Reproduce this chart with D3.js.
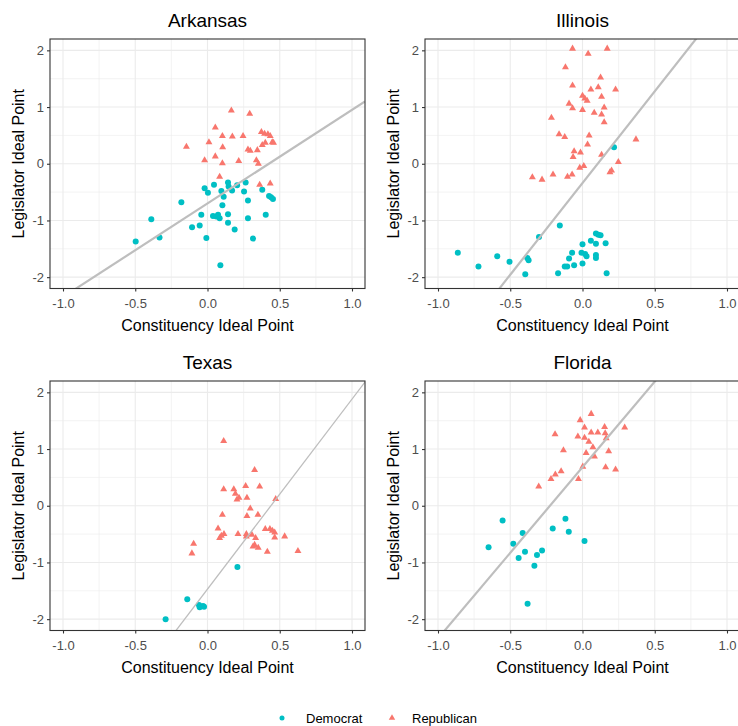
<!DOCTYPE html>
<html>
<head>
<meta charset="utf-8">
<script src="https://cdn.jsdelivr.net/npm/d3@7"></script>
<style>
  body { margin: 0; background: #fff; }
  svg { font-family: "Liberation Sans", Arial, sans-serif; }
</style>
</head>
<body>
<div id="chart"></div>
<script>
const width = 738, height = 726;

// ---- data ----
const states = ["Arkansas", "Illinois", "Texas", "Florida"];
const parties = ["Democrat", "Republican"];
const xTicks = [-1.0, -0.5, 0.0, 0.5, 1.0];
const yTicks = [-2, -1, 0, 1, 2];

// fitted line for each state: legislator = intercept + slope * constituency
const fitIntercept = [-0.70, -0.34, -1.47, 0.68];
const fitSlope = [1.65, 3.235, 3.35, 3.02];

const arkansasDem = [
	[-0.497, -1.37], [-0.389, -0.98], [-0.332, -1.30], [-0.181, -0.68], [-0.107, -1.12],
	[-0.054, -1.09], [-0.043, -0.90], [-0.020, -0.43], [0.003, -0.51], [-0.008, -1.31],
	[0.045, -0.37], [0.096, -0.48], [0.038, -0.92], [0.061, -0.93], [0.073, -0.90],
	[0.084, -0.96], [0.103, -0.73], [0.112, -0.58], [0.089, -1.79], [0.142, -0.33],
	[0.146, -0.40], [0.142, -0.89], [0.142, -1.04], [0.188, -1.16], [0.170, -0.47],
	[0.264, -0.33], [0.253, -0.49], [0.280, -0.65], [0.280, -0.96], [0.315, -1.32],
	[0.379, -0.46], [0.403, -0.90], [0.426, -0.57], [0.440, -0.59], [0.453, -0.62],
	[0.205, -0.38]
];
const arkansasRep = [
	[0.165, 0.94], [0.292, 0.88], [0.054, 0.64], [0.010, 0.38], [-0.146, 0.30],
	[0.103, 0.49], [0.172, 0.48], [0.246, 0.49], [0.105, 0.29], [0.054, 0.13],
	[-0.020, 0.06], [0.103, 0.01], [0.084, -0.23], [0.216, 0.05], [0.280, 0.25],
	[0.296, 0.23], [0.345, 0.24], [0.379, 0.33], [0.400, 0.37], [0.373, 0.56],
	[0.395, 0.53], [0.418, 0.52], [0.434, 0.49], [0.448, 0.38], [0.457, 0.37],
	[0.338, 0.06], [0.352, 0.00], [0.361, -0.37], [0.434, -0.35]
];
const illinoisDem = [
	[-0.863, -1.57], [-0.720, -1.81], [-0.590, -1.63], [-0.505, -1.73], [-0.382, -1.66],
	[-0.373, -1.70], [-0.396, -1.95], [-0.301, -1.29], [-0.157, -1.09], [-0.169, -1.93],
	[0.218, 0.29], [-0.123, -1.81], [-0.106, -1.81], [-0.072, -1.57], [-0.093, -1.67],
	[-0.058, -1.79], [0.000, -1.42], [0.000, -1.76], [-0.007, -1.57], [0.028, -1.63],
	[0.058, -1.36], [0.093, -1.23], [0.125, -1.26], [0.093, -1.41], [0.160, -1.40],
	[0.093, -1.61], [0.093, -1.66], [0.167, -1.93], [0.018, -1.59], [0.110, -1.25]
];
const illinoisRep = [
	[-0.069, 2.03], [0.171, 2.03], [0.039, 1.94], [-0.118, 1.70], [0.125, 1.52],
	[-0.069, 1.38], [0.109, 1.35], [0.229, 1.31], [0.058, 1.31], [0.000, 1.20],
	[0.016, 1.15], [0.132, 1.18], [0.032, 1.11], [-0.093, 1.06], [-0.069, 0.98],
	[0.150, 0.99], [0.000, 0.95], [0.081, 0.90], [0.132, 0.87], [0.150, 0.73],
	[-0.215, 0.81], [-0.162, 0.52], [-0.123, 0.47], [0.046, 0.50], [0.035, 0.34],
	[-0.058, 0.22], [-0.014, 0.20], [-0.065, 0.12], [0.132, 0.16], [0.370, 0.43],
	[-0.019, -0.07], [0.009, -0.04], [0.248, 0.03], [0.190, -0.15], [0.201, -0.12],
	[-0.347, -0.24], [-0.280, -0.28], [-0.204, -0.19], [-0.104, -0.23], [-0.072, -0.19]
];
const texasDem = [
	[0.207, -1.08], [-0.140, -1.65], [-0.059, -1.75], [-0.054, -1.79], [-0.031, -1.77],
	[-0.290, -2.00], [-0.024, -1.78]
];
const texasRep = [
	[0.112, 1.14], [0.326, 0.63], [0.264, 0.35], [0.361, 0.34], [0.112, 0.29],
	[0.182, 0.29], [0.193, 0.21], [0.204, 0.11], [0.218, 0.14], [0.273, 0.14],
	[0.472, 0.12], [0.296, -0.05], [0.103, -0.16], [0.273, -0.18], [0.349, -0.16],
	[0.073, -0.40], [0.096, -0.53], [0.084, -0.57], [0.114, -0.50], [0.211, -0.50],
	[0.269, -0.50], [0.307, -0.51], [0.333, -0.57], [0.326, -0.69], [0.315, -0.72],
	[0.351, -0.74], [0.400, -0.41], [0.432, -0.41], [0.465, -0.47], [0.449, -0.44],
	[0.534, -0.54], [0.465, -0.56], [0.414, -0.81], [0.626, -0.80], [-0.096, -0.67],
	[-0.108, -0.84], [0.269, -0.54]
];
const floridaDem = [
	[-0.553, -0.26], [-0.118, -0.23], [-0.206, -0.40], [-0.095, -0.46], [0.014, -0.62],
	[-0.414, -0.48], [-0.650, -0.73], [-0.479, -0.67], [-0.398, -0.81], [-0.442, -0.92],
	[-0.315, -0.87], [-0.280, -0.79], [-0.333, -1.06], [-0.380, -1.73]
];
const floridaRep = [
	[0.060, 1.62], [-0.016, 1.51], [0.014, 1.38], [0.060, 1.29], [0.106, 1.29],
	[0.153, 1.39], [0.157, 1.28], [0.164, 1.19], [0.292, 1.38], [-0.190, 1.26],
	[-0.032, 1.22], [0.014, 1.20], [0.044, 1.13], [0.072, 1.03], [0.025, 0.93],
	[0.083, 0.87], [-0.132, 0.98], [0.181, 0.96], [0.002, 0.69], [0.160, 0.68],
	[0.229, 0.64], [-0.148, 0.61], [-0.188, 0.55], [-0.218, 0.47], [-0.028, 0.47],
	[-0.303, 0.34]
];

const demPoints = [arkansasDem, illinoisDem, texasDem, floridaDem];
const repPoints = [arkansasRep, illinoisRep, texasRep, floridaRep];
const fitWidth = [2.2, 2.2, 1.3, 2.2];

// ---- layout ----
const colLeft = [50, 425], rowTop = [39, 381];
const pw = 315, ph = 249.5;
const demColor = "#00BFC4", repColor = "#F8766D";

const svg = d3.select("#chart")
	.append("svg")
	.attr("width", width)
	.attr("height", height);

const x = d3.scaleLinear().domain([-1.09, 1.09]).range([0, pw]);
const y = d3.scaleLinear().domain([-2.2, 2.2]).range([ph, 0]);

const xMinor = [-0.75, -0.25, 0.25, 0.75];
const yMinor = [-1.5, -0.5, 0.5, 1.5];
const triangle = d3.symbol().type(d3.symbolTriangle).size(21);

states.forEach(function(state, i) {
	const g = svg.append("g")
		.attr("transform", `translate(${colLeft[i % 2]}, ${rowTop[Math.floor(i / 2)]})`);

	g.append("clipPath").attr("id", "clip" + i)
		.append("rect").attr("width", pw).attr("height", ph);

	// grid
	g.selectAll(".xminor").data(xMinor).enter().append("line")
		.attr("x1", d => x(d)).attr("x2", d => x(d)).attr("y1", 0).attr("y2", ph)
		.attr("stroke", "#EBEBEB").attr("stroke-width", 0.6);
	g.selectAll(".yminor").data(yMinor).enter().append("line")
		.attr("x1", 0).attr("x2", pw).attr("y1", d => y(d)).attr("y2", d => y(d))
		.attr("stroke", "#EBEBEB").attr("stroke-width", 0.6);
	g.selectAll(".xmajor").data(xTicks).enter().append("line")
		.attr("x1", d => x(d)).attr("x2", d => x(d)).attr("y1", 0).attr("y2", ph)
		.attr("stroke", "#EBEBEB").attr("stroke-width", 1.1);
	g.selectAll(".ymajor").data(yTicks).enter().append("line")
		.attr("x1", 0).attr("x2", pw).attr("y1", d => y(d)).attr("y2", d => y(d))
		.attr("stroke", "#EBEBEB").attr("stroke-width", 1.1);

	const plot = g.append("g").attr("clip-path", `url(#clip${i})`);

	// points
	plot.selectAll(".dem").data(demPoints[i]).enter().append("circle")
		.attr("cx", d => x(d[0])).attr("cy", d => y(d[1]))
		.attr("r", 3).attr("fill", demColor);
	plot.selectAll(".rep").data(repPoints[i]).enter().append("path")
		.attr("d", triangle)
		.attr("transform", d => `translate(${x(d[0])}, ${y(d[1])})`)
		.attr("fill", repColor);

	// fitted line across the panel
	const xs = x.domain();
	plot.append("line")
		.attr("x1", x(xs[0])).attr("y1", y(fitIntercept[i] + fitSlope[i] * xs[0]))
		.attr("x2", x(xs[1])).attr("y2", y(fitIntercept[i] + fitSlope[i] * xs[1]))
		.attr("stroke", "#BEBEBE").attr("stroke-width", fitWidth[i]);

	// border
	g.append("rect").attr("width", pw).attr("height", ph)
		.attr("fill", "none").attr("stroke", "#333333").attr("stroke-width", 1.1);

	// axes
	const xAxis = g.append("g").attr("transform", `translate(0, ${ph})`)
		.call(d3.axisBottom(x).tickValues(xTicks).tickFormat(d => d.toFixed(1))
			.tickSize(3).tickPadding(7));
	const yAxis = g.append("g")
		.call(d3.axisLeft(y).tickValues(yTicks).tickFormat(d => String(d))
			.tickSize(3).tickPadding(3));
	[xAxis, yAxis].forEach(function(a) {
		a.select(".domain").remove();
		a.selectAll("line").attr("stroke", "#333333").attr("stroke-width", 1.1);
		a.selectAll("text").attr("fill", "#4D4D4D")
			.style("font-size", "13px").style("font-family", "Liberation Sans, Arial, sans-serif");
	});

	// titles
	g.append("text")
		.attr("x", pw / 2).attr("y", -12)
		.attr("text-anchor", "middle")
		.style("font-size", "19px").attr("fill", "#000")
		.text(state);
	g.append("text")
		.attr("x", pw / 2).attr("y", ph + 42)
		.attr("text-anchor", "middle")
		.style("font-size", "16px").attr("fill", "#000")
		.text("Constituency Ideal Point");
	g.append("text")
		.attr("transform", `translate(${-26}, ${ph / 2}) rotate(-90)`)
		.attr("text-anchor", "middle")
		.style("font-size", "16px").attr("fill", "#000")
		.text("Legislator Ideal Point");
});

// legend
const legend = svg.append("g").attr("transform", "translate(0, 718)");
legend.append("circle").attr("cx", 282).attr("cy", 0).attr("r", 2.5).attr("fill", demColor);
legend.append("text").attr("x", 306).attr("y", 5).style("font-size", "13px").attr("fill", "#000")
	.text(parties[0]);
legend.append("path").attr("d", d3.symbol().type(d3.symbolTriangle).size(18))
	.attr("transform", "translate(392, 0)").attr("fill", repColor);
legend.append("text").attr("x", 412).attr("y", 5).style("font-size", "13px").attr("fill", "#000")
	.text(parties[1]);
</script>
</body>
</html>
